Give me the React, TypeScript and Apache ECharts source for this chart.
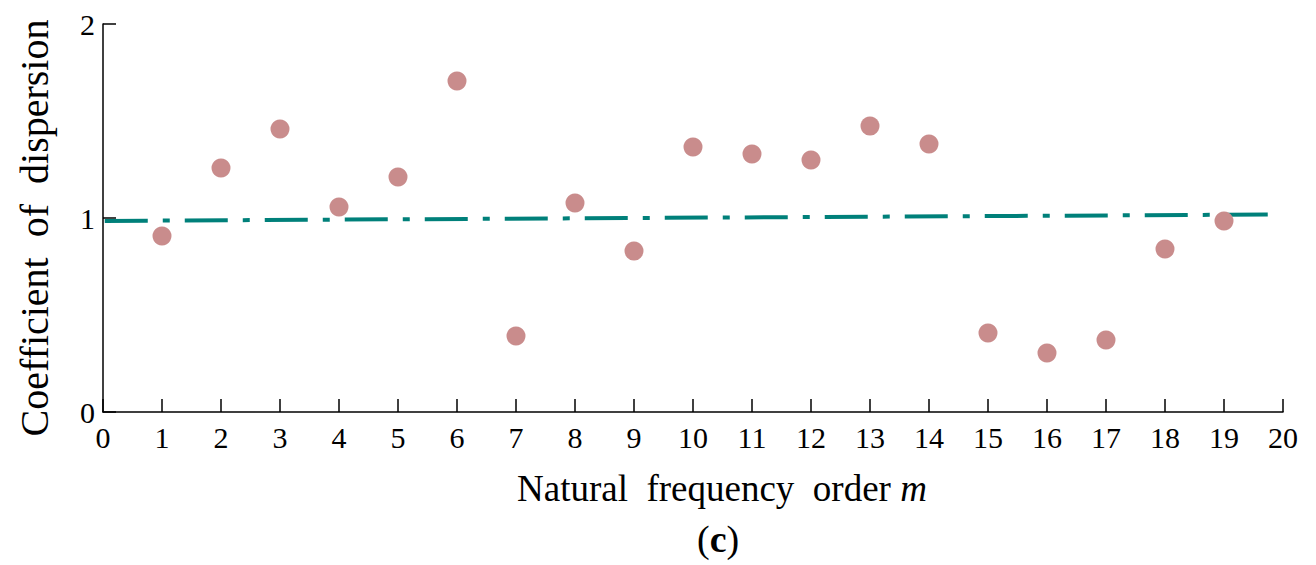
import React, { useEffect, useRef } from "react";
import * as echarts from "echarts";

const orders = [1, 2, 3, 4, 5, 6, 7, 8, 9, 10, 11, 12, 13, 14, 15, 16, 17, 18, 19];
const dispersion = [0.907, 1.258, 1.459, 1.057, 1.211, 1.706, 0.392, 1.077, 0.83, 1.366, 1.33, 1.299, 1.474, 1.381, 0.407, 0.304, 0.371, 0.84, 0.985];
const trendX = [0.03, 19.78];
const trendY = [0.985, 1.018];
const xTitle = "Natural  frequency  order ";
const yTitle = "Coefficient  of  dispersion";

const FONT = "'Liberation Serif', 'Times New Roman', serif";

export default function App() {
  const ref = useRef<HTMLDivElement>(null);
  useEffect(() => {
    if (!ref.current) return;
    const chart = echarts.init(ref.current, null, { renderer: "svg" });
    chart.setOption({
      animation: false,
      backgroundColor: "#ffffff",
      grid: { left: 103, top: 24, width: 1180, height: 388 },
      xAxis: {
        type: "value",
        min: 0,
        max: 20,
        interval: 1,
        axisLine: { show: true, lineStyle: { color: "#000", width: 1.5 } },
        axisTick: { show: true, inside: true, length: 13, lineStyle: { color: "#000", width: 1.5 } },
        axisLabel: { color: "#000", fontFamily: FONT, fontSize: 30, margin: 10, showMaxLabel: true, showMinLabel: true },
        splitLine: { show: false },
      },
      yAxis: {
        type: "value",
        min: 0,
        max: 2,
        interval: 1,
        axisLine: { show: true, lineStyle: { color: "#000", width: 1.5 } },
        axisTick: { show: true, inside: true, length: 13, lineStyle: { color: "#000", width: 1.5 } },
        axisLabel: { color: "#000", fontFamily: FONT, fontSize: 30, margin: 8 },
        splitLine: { show: false },
      },
      graphic: [
        {
          type: "text",
          left: 517,
          top: 470,
          style: {
            text: "{n|" + xTitle + "}{i|m}",
            rich: {
              n: { fontFamily: FONT, fontSize: 37, fill: "#000" },
              i: { fontFamily: FONT, fontSize: 37, fontStyle: "italic", fill: "#000" },
            },
          },
        },
        {
          type: "text",
          left: 697,
          top: 520,
          style: {
            text: "{p|(}{b|c}{p|)}",
            rich: {
              p: { fontFamily: FONT, fontSize: 38, fill: "#000" },
              b: { fontFamily: FONT, fontSize: 38, fontWeight: "bold", fill: "#000" },
            },
          },
        },
        {
          type: "text",
          x: 34,
          y: 228,
          rotation: Math.PI / 2,
          style: {
            text: yTitle,
            fontFamily: FONT,
            fontSize: 40,
            fill: "#000",
            align: "center",
            verticalAlign: "middle",
          },
        },
      ],
      series: [
        {
          type: "line",
          data: trendX.map((x, i) => [x, trendY[i]]),
          showSymbol: false,
          symbol: "none",
          lineStyle: { color: "#00807a", width: 4, type: [43, 15, 7, 15] },
          z: 1,
        },
        {
          type: "scatter",
          data: orders.map((x, i) => [x, dispersion[i]]),
          symbol: "circle",
          symbolSize: 19,
          itemStyle: { color: "#c98c8c", opacity: 1 },
          z: 2,
        },
      ],
    });
    return () => chart.dispose();
  }, []);
  return (
    <div
      ref={ref}
      style={{ position: "fixed", left: 0, top: 0, width: 1316, height: 565, background: "#fff" }}
    />
  );
}
